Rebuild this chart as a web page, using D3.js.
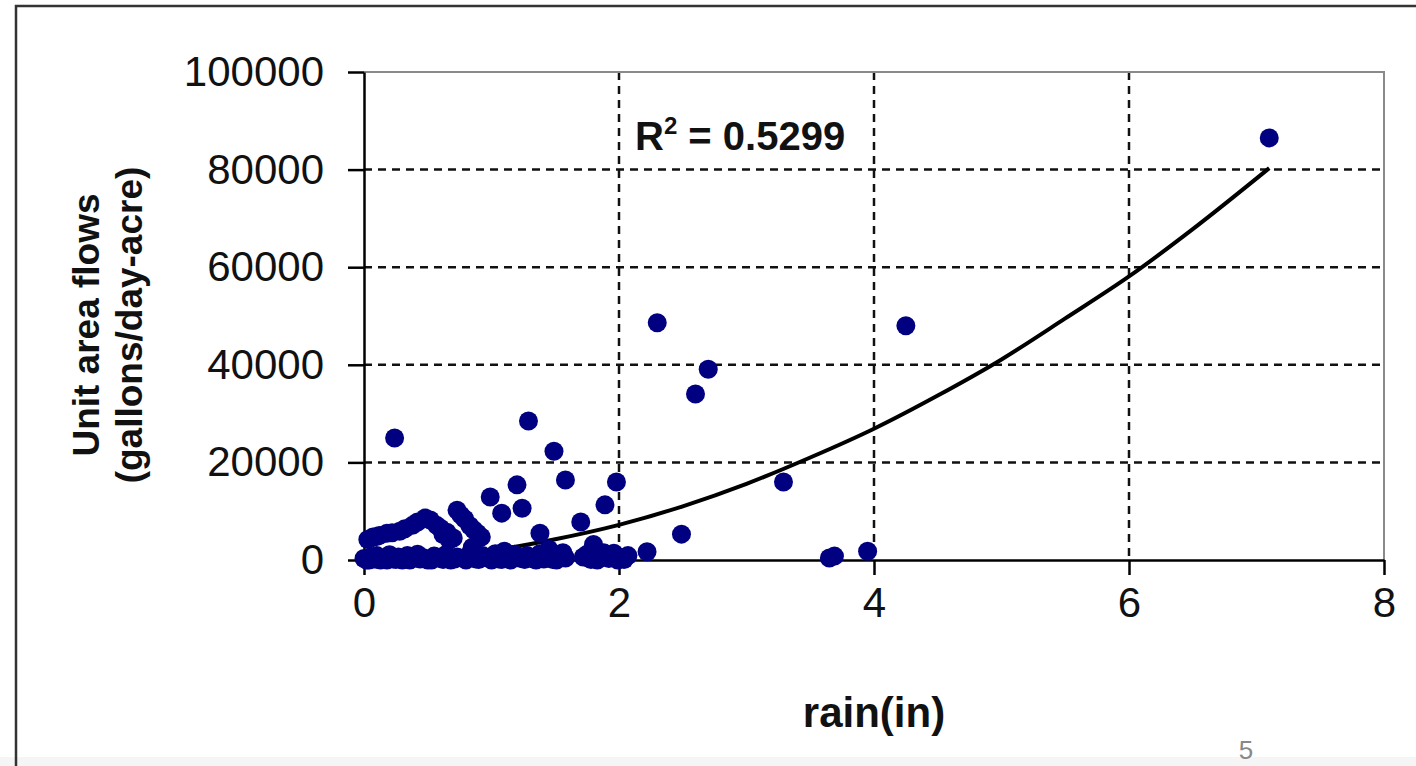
<!DOCTYPE html>
<html>
<head>
<meta charset="utf-8">
<script src="https://cdn.jsdelivr.net/npm/d3@7"></script>
<style>
  body { margin: 0; background: #fff; overflow: hidden; }
  text { font-family: "Liberation Sans", Arial, sans-serif; }
</style>
</head>
<body>
<div class="grafico"></div>
<script>
// rain (in) vs unit area flows
const rainIn = [7.10, 2.30, 4.25, 2.70, 2.60, 1.29, 0.24, 1.49, 1.58, 1.98, 3.29, 1.20,
  0.99, 1.89, 1.24, 0.73, 1.08, 0.79, 0.48, 1.70, 0.38, 0.57, 0.28, 0.18, 0.65, 0.89,
  1.38, 2.49, 0.07, 0.12, 0.70, 0.92, 0.67, 1.80, 2.22, 3.69, 3.65, 3.95, 1.77,
  0.03, 0.10, 0.22, 0.32, 0.42, 0.52, 0.60, 0.62, 0.76, 0.83, 0.86,
  0.00, 0.02, 0.05, 0.08, 0.10, 0.13, 0.16, 0.20, 0.23, 0.27, 0.30, 0.34, 0.38, 0.42,
  0.46, 0.50, 0.55, 0.60, 0.64, 0.68, 0.73, 0.78, 0.83, 0.88, 0.93, 0.98, 1.03, 1.08,
  1.13, 1.18, 1.23, 1.28, 1.33, 1.38, 1.43, 1.48, 1.53, 1.58, 1.72, 1.78, 1.85, 1.92,
  1.96, 2.02, 2.07, 0.85, 1.10, 1.45,
  0.04, 0.11, 0.18, 0.25, 0.36, 0.44, 0.53, 0.62, 0.71, 0.80, 0.90, 1.00, 1.06, 1.15,
  1.26, 1.35, 1.41, 1.51, 1.56, 1.75, 1.83, 1.88, 1.99, 2.04];
const unitFlow = [86500, 48600, 48000, 39100, 34000, 28500, 25000, 22300, 16400, 16000, 16000, 15400,
  12900, 11300, 10600, 10200, 9600, 8400, 8600, 7800, 7100, 7100, 5900, 5500, 5700, 5500,
  5500, 5300, 4700, 5000, 4500, 4700, 4100, 3200, 1700, 800, 400, 1800, 1400,
  4200, 4800, 5600, 6400, 7800, 8200, 6500, 5200, 9200, 7000, 6200,
  300, 0, 600, 200, 900, 0, 400, 1100, 200, 600, 0, 900, 300, 1200,
  500, 0, 800, 300, 1100, 0, 600, 300, 1300, 200, 900, 500, 1300, 100,
  700, 1200, 300, 900, 200, 1300, 600, 100, 1000, 400, 600, 100, 800, 300,
  1400, 500, 900, 2600, 1800, 2200,
  0, 100, 0, 100, 0, 200, 0, 100, 200, 0, 100, 0, 200, 0,
  100, 0, 200, 0, 1500, 1200, 0, 1500, 0, 100];

// power trendline, read at a few x positions
const trendX = [0.02, 0.5, 1, 1.5, 2, 2.5, 3, 3.5, 4, 4.5, 5, 5.5, 6, 6.5, 7.1];
const trendY = [1, 520, 1930, 4250, 7200, 11000, 15600, 21000, 26900, 33700, 41100, 49500, 58100, 67800, 80300];

const xTicks = [0, 2, 4, 6, 8];
const yTicks = [0, 20000, 40000, 60000, 80000, 100000];

var W = 1416, H = 766;
var plot = { left: 364, right: 1384, top: 72, bottom: 560 };

var svg = d3.select(".grafico")
  .append("svg")
  .attr("width", W)
  .attr("height", H);

// slide frame
svg.append("rect").attr("x", 0).attr("y", 757).attr("width", W).attr("height", 9).attr("fill", "#f5f5f5");
svg.append("path")
  .attr("d", "M16," + H + "V6H" + W)
  .attr("fill", "none")
  .attr("stroke", "#333")
  .attr("stroke-width", 2.5);

var x = d3.scaleLinear().domain([0, 8]).range([plot.left, plot.right]),
  y = d3.scaleLinear().domain([0, 100000]).range([plot.bottom, plot.top]);

// grid (dashed)
var grid = svg.append("g").attr("stroke", "#111").attr("stroke-width", 2.5).attr("stroke-dasharray", "8,6");
grid.selectAll(".gy")
  .data(yTicks.filter(d => d > 0 && d < 100000))
  .enter()
  .append("line")
  .attr("x1", plot.left).attr("x2", plot.right)
  .attr("y1", d => y(d)).attr("y2", d => y(d));
grid.selectAll(".gx")
  .data(xTicks.filter(d => d > 0 && d < 8))
  .enter()
  .append("line")
  .attr("y1", plot.top).attr("y2", plot.bottom)
  .attr("x1", d => x(d)).attr("x2", d => x(d));

// gray top / right border of plot area
svg.append("path")
  .attr("d", "M" + plot.left + "," + plot.top + "H" + plot.right + "V" + plot.bottom)
  .attr("fill", "none")
  .attr("stroke", "#8a8a8a")
  .attr("stroke-width", 2);

// axes
var gx = svg.append("g")
  .attr("transform", "translate(0," + plot.bottom + ")")
  .call(d3.axisBottom(x).tickValues(xTicks).tickSize(15).tickSizeOuter(0).tickPadding(12));
var gy = svg.append("g")
  .attr("transform", "translate(" + plot.left + ",0)")
  .call(d3.axisLeft(y).tickValues(yTicks).tickSize(16).tickSizeOuter(0).tickPadding(24).tickFormat(d3.format("d")));
[gx, gy].forEach(g => {
  g.selectAll("path, line").attr("stroke", "#000").attr("stroke-width", 2.5);
  g.selectAll("text").attr("font-size", 42).attr("fill", "#111")
    .attr("font-family", "'Liberation Sans', Arial, sans-serif");
});

// trendline
var linea = d3.line()
  .x(d => x(d[0]))
  .y(d => y(d[1]))
  .curve(d3.curveMonotoneX);
svg.append("path")
  .datum(d3.zip(trendX, trendY))
  .attr("d", linea)
  .attr("fill", "none")
  .attr("stroke", "#000")
  .attr("stroke-width", 4);

// points
svg.selectAll(".dot")
  .data(d3.zip(rainIn, unitFlow))
  .enter()
  .append("circle")
  .attr("class", "dot")
  .attr("r", 9.5)
  .attr("cx", d => x(d[0]))
  .attr("cy", d => y(d[1]))
  .attr("fill", "#000080");

// labels
svg.append("text")
  .attr("x", 874).attr("y", 727)
  .attr("text-anchor", "middle")
  .attr("font-size", 42).attr("font-weight", "bold").attr("fill", "#111")
  .text("rain(in)");
svg.append("text")
  .attr("transform", "translate(99,325) rotate(-90)")
  .attr("text-anchor", "middle")
  .attr("font-size", 37).attr("font-weight", "bold").attr("fill", "#111")
  .text("Unit area flows");
svg.append("text")
  .attr("transform", "translate(142,325) rotate(-90)")
  .attr("text-anchor", "middle")
  .attr("font-size", 37).attr("font-weight", "bold").attr("fill", "#111")
  .text("(gallons/day-acre)");

var r2 = svg.append("text")
  .attr("x", 635).attr("y", 150)
  .attr("font-size", 40).attr("font-weight", "bold").attr("fill", "#111");
r2.append("tspan").text("R");
r2.append("tspan").attr("dy", -16).attr("font-size", 24).text("2");
r2.append("tspan").attr("dy", 16).text(" = 0.5299");

// page number
svg.append("text")
  .attr("x", 1246).attr("y", 759)
  .attr("text-anchor", "middle")
  .attr("font-family", "'Open Sans', sans-serif")
  .attr("font-size", 26).attr("fill", "#888")
  .text("5");
</script>
</body>
</html>
